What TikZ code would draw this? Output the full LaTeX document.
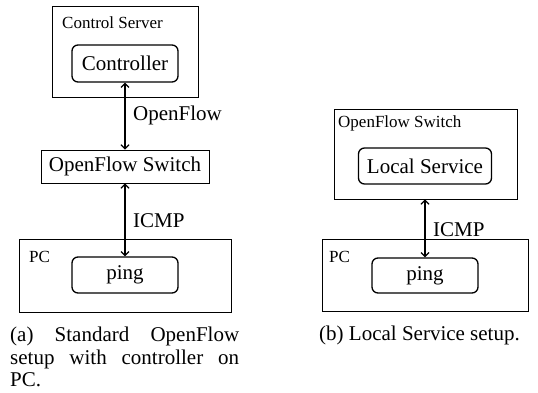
\documentclass[tikz,border=0pt]{standalone}
\usepackage{fontspec}
\setmainfont{Liberation Serif}
\usetikzlibrary{arrows.meta}
\begin{document}
\begin{tikzpicture}[x=1pt,y=-1pt,
  outerbox/.style={draw,line width=0.9pt,inner sep=0pt},
  innerbox/.style={draw,rounded corners=6pt,line width=1.3pt,inner sep=0pt,font=\fontsize{21}{23}\selectfont},
  plainbox/.style={draw,line width=0.9pt,inner sep=0pt,font=\fontsize{21}{23}\selectfont},
  smalllabel/.style={anchor=west,inner sep=0pt,font=\fontsize{17}{19}\selectfont},
  linklabel/.style={anchor=west,inner sep=0pt,font=\fontsize{21}{23}\selectfont},
  link/.style={line width=1.2pt,{Straight Barb[length=4pt,width=8pt]}-{Straight Barb[length=4pt,width=8pt]}}
]
\useasboundingbox (0,0) rectangle (538,393);
% (a)
\node[outerbox,minimum width=146pt,minimum height=91pt] (csA) at (125,51.5) {};
\node[smalllabel] (csAlab) at (62,23) {Control Server};
\node[innerbox,minimum width=106pt,minimum height=37pt] (ctrl) at (125,63.5) {Controller};
\node[plainbox,minimum width=168pt,minimum height=33pt] (swA) at (125,166.5) {OpenFlow Switch};
\node[outerbox,minimum width=212pt,minimum height=73pt] (pcA) at (125,275.5) {};
\node[smalllabel] (pcAlab) at (29,257) {PC};
\node[innerbox,minimum width=106pt,minimum height=36pt] (pingA) at (125,275) {ping};
\draw[link] (ctrl.south) -- (swA.north);
\draw[link] (swA.south) -- (pingA.north);
\node[linklabel] (ofA) at (133,115) {OpenFlow};
\node[linklabel] (icmpA) at (133,221) {ICMP};
\node[anchor=north west,inner sep=0pt,text width=229pt,align=justify,
  font=\fontsize{21}{22.5}\selectfont] (capA) at (10,327)
  {\hyphenpenalty=10000 (a) Standard OpenFlow setup with controller on PC.};
% (b)
\node[outerbox,minimum width=183pt,minimum height=90pt] (swB) at (425.5,154) {};
\node[smalllabel] (swBlab) at (338,123) {OpenFlow Switch};
\node[innerbox,minimum width=133pt,minimum height=36pt] (ls) at (425,166) {Local Service};
\node[outerbox,minimum width=206pt,minimum height=72pt] (pcB) at (425,275) {};
\node[smalllabel] (pcBlab) at (329,257) {PC};
\node[innerbox,minimum width=106pt,minimum height=35pt] (pingB) at (425,275.5) {ping};
\draw[link] (swB.south -| pingB.north) -- (pingB.north);
\node[linklabel] (icmpB) at (433,230) {ICMP};
\node[inner sep=0pt,font=\fontsize{21}{23}\selectfont] (capB) at (419.5,335) {(b) Local Service setup.};
\end{tikzpicture}
\end{document}
